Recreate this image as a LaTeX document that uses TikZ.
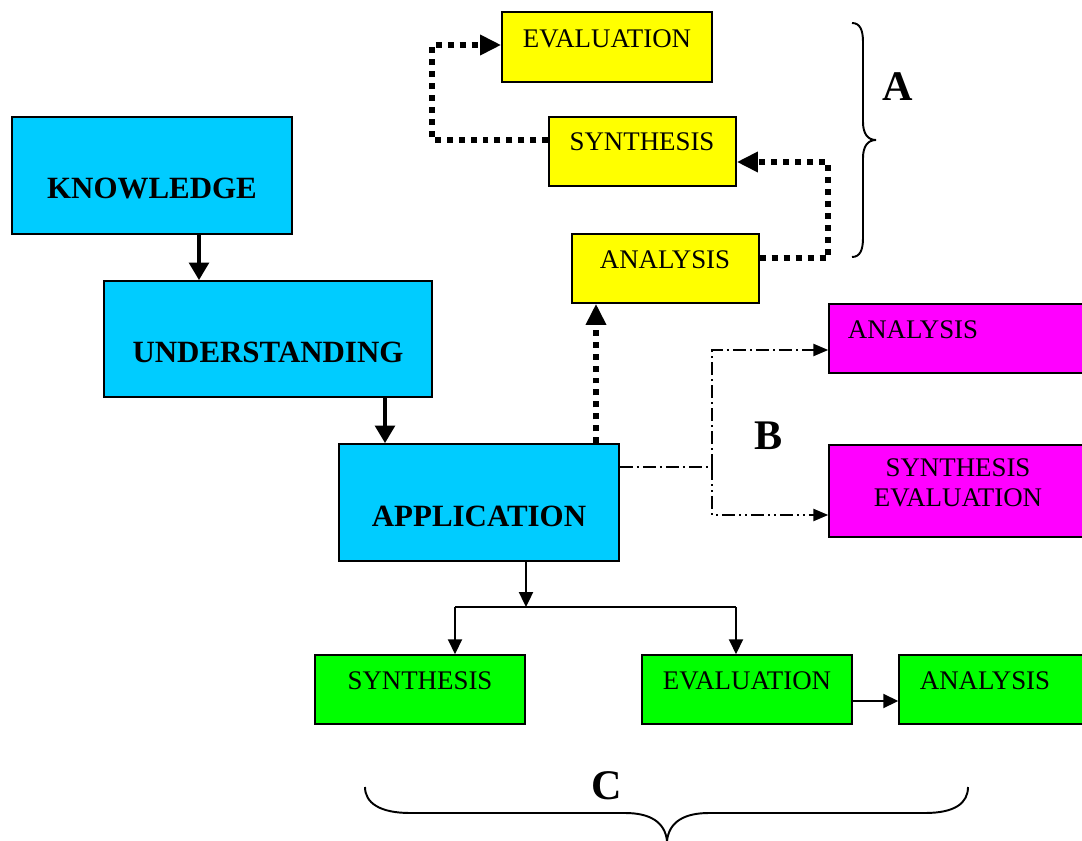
\documentclass[tikz,border=0pt]{standalone}
\usepackage{fontspec}
\setmainfont{Liberation Serif}
\usetikzlibrary{arrows.meta}
\definecolor{bcyan}{HTML}{00CCFF}
\definecolor{byellow}{HTML}{FFFF00}
\definecolor{bmag}{HTML}{FF00FF}
\definecolor{bgreen}{HTML}{00FF00}
\begin{document}
\begin{tikzpicture}[x=0.02cm,y=-0.02cm,
  bx/.style 2 args={draw=black,line width=0.9pt,inner sep=0pt,minimum width=#1*0.02cm,minimum height=#2*0.02cm},
  txt/.style={font=\fontsize{15.3}{17}\selectfont,inner sep=0pt},
  btxt/.style={font=\bfseries\fontsize{17.6}{20}\selectfont,inner sep=0pt},
  lbl/.style={font=\bfseries\fontsize{24}{28}\selectfont,inner sep=0pt},
  thickarr/.style={line width=2.8pt,-{Triangle[length=10pt,width=11pt]}},
  dotarr/.style={line width=3.4pt,dash pattern=on 3.4pt off 3.4pt,-{Triangle[length=12pt,width=11pt]}},
  thinarr/.style={line width=1.1pt,-{Triangle[length=8.5pt,width=8pt]}},
  dashdot/.style={line width=0.85pt,dash pattern=on 7.4pt off 2.3pt on 1.1pt off 2.3pt,-{Triangle[length=8.5pt,width=7pt]}},
  dashdotdot/.style={line width=0.85pt,dash pattern=on 7.4pt off 2.3pt on 1.1pt off 2.3pt on 1.1pt off 2.3pt,-{Triangle[length=8.5pt,width=7pt]}},
  bracestyle/.style={line width=1.1pt}
]
\useasboundingbox (0,0) rectangle (1082,841);
% boxes
\node[bx={280}{117},fill=bcyan] (know) at (152,175.5) {};
\node[bx={328}{116},fill=bcyan] (und) at (268,339) {};
\node[bx={280}{117},fill=bcyan] (app) at (479,502.5) {};
\node[bx={210}{70},fill=byellow] (yev) at (607,47) {};
\node[bx={187}{69},fill=byellow] (ysy) at (642.5,151.5) {};
\node[bx={187}{69},fill=byellow] (yan) at (665.5,268.5) {};
\node[bx={261}{69},fill=bmag] (man) at (959.5,338.5) {};
\node[bx={261}{92},fill=bmag] (mse) at (959.5,491) {};
\node[bx={210}{69},fill=bgreen] (gsy) at (420,689.5) {};
\node[bx={210}{69},fill=bgreen] (gev) at (747,689.5) {};
\node[bx={191}{69},fill=bgreen] (gan) at (994.5,689.5) {};
% texts
\node[btxt] (knowt) at (152,188) {KNOWLEDGE};
\node[btxt] (undt) at (268,352) {UNDERSTANDING};
\node[btxt] (appt) at (479,516) {APPLICATION};
\node[txt] (yevt) at (607,39) {EVALUATION};
\node[txt] (ysyt) at (642,142) {SYNTHESIS};
\node[txt] (yant) at (665,260) {ANALYSIS};
\node[txt] (mant) at (913,330) {ANALYSIS};
\node[txt,align=center] (mset) at (958,483) {SYNTHESIS\\EVALUATION};
\node[txt] (gsyt) at (420,681) {SYNTHESIS};
\node[txt] (gevt) at (747,681) {EVALUATION};
\node[txt] (gant) at (985,681) {ANALYSIS};
\node[lbl] (la) at (898,87) {A};
\node[lbl] (lb) at (769,436) {B};
\node[lbl] (lc) at (607,786) {C};
% thick arrows
\draw[thickarr] (know.south -| 199,0) -- (und.north -| 199,0);
\draw[thickarr] (und.south -| 385,0) -- (app.north -| 385,0);
% dotted
\draw[dotarr] (app.north -| 596,0) -- (yan.south -| 596,0);
\draw[dotarr] (yan.east |- 0,258) -- (828,258) -- (828,162) -- (ysy.east |- 0,162);
\draw[dotarr] (ysy.west |- 0,140) -- (432,140) -- (432,45) -- (yev.west |- 0,45);
% dash-dot
\coordinate (bj) at (712,467);
\draw[dashdot] (app.east |- bj) -- (bj) -- (712,350) -- (man.west |- 0,350);
\draw[dashdotdot] (bj) -- (712,515) -- (mse.west |- 0,515);
% bottom tree
\coordinate (tj) at (526,607);
\draw[thinarr] (app.south -| tj) -- (tj);
\draw[line width=1.1pt] (455,607) -- (736,607);
\draw[thinarr] (455,607) -- (gsy.north -| 455,0);
\draw[thinarr] (736,607) -- (gev.north -| 736,0);
\draw[thinarr] (gev.east |- 0,701) -- (gan.west |- 0,701);
% braces
\draw[bracestyle] (852,23) .. controls (860,23) and (863,30) .. (863,42) -- (863,122)
  .. controls (863,134) and (868,140) .. (876,140)
  .. controls (868,140) and (863,146) .. (863,158) -- (863,238)
  .. controls (863,250) and (860,257) .. (852,257);
\draw[bracestyle] (365,787) .. controls (365,803) and (380,813) .. (410,813) -- (625,813)
  .. controls (650,813) and (665,822) .. (667,841)
  .. controls (669,822) and (684,813) .. (709,813) -- (925,813)
  .. controls (955,813) and (968,803) .. (968,787);
\end{tikzpicture}
\end{document}
